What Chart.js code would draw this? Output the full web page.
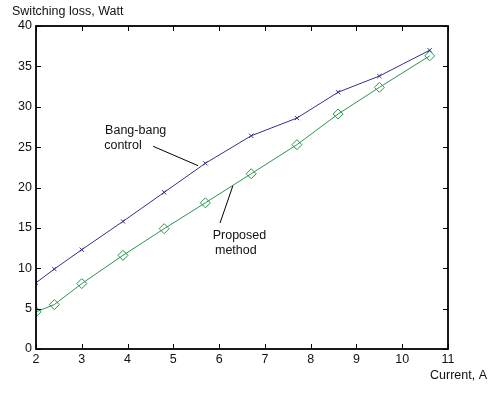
<!DOCTYPE html>
<html>
<head>
<meta charset="utf-8">
<script src="https://cdn.jsdelivr.net/npm/chart.js@4.4.1/dist/chart.umd.min.js"></script>
<style>
  html, body { margin: 0; padding: 0; background: #fff; }
  #wrap { width: 493px; height: 394px; position: relative; }
</style>
</head>
<body>
<div id="wrap"><canvas id="chart"></canvas></div>
<script>
// current values (A)
const currentA = [2, 2.4, 3, 3.9, 4.8, 5.7, 6.7, 7.7, 8.6, 9.5, 10.6];
// switching loss (W)
const bangBang = [8.2, 9.9, 12.3, 15.8, 19.4, 23.0, 26.4, 28.6, 31.8, 33.8, 37.0];
const proposed = [4.6, 5.5, 8.1, 11.6, 14.9, 18.1, 21.7, 25.3, 29.1, 32.4, 36.3];
const xTicks = [2, 3, 4, 5, 6, 7, 8, 9, 10, 11];
const yTicks = [0, 5, 10, 15, 20, 25, 30, 35, 40];

const FAMILY = '"Liberation Sans", Arial, sans-serif';
const FONT = '12.5px ' + FAMILY;
const BLUE = 'rgb(48,48,140)';
const GREEN = 'rgb(38,150,78)';

// text labels with pointer lines, in data units
const notes = [
  { lines: [['Bang-bang', 3.51, 27.0], ['control', 3.49, 25.25]], from: [4.56, 25.1], to: [5.54, 22.7] },
  { lines: [['Proposed', 5.86, 14.0], ['method', 5.91, 12.25]], from: [6.02, 15.6], to: [6.30, 20.2] }
];

const toPoints = ys => ys.map((y, i) => ({ x: currentA[i], y: y }));

// frame, inward ticks, axis names and annotations
const decor = {
  id: 'decor',
  afterDraw(chart) {
    const { ctx, chartArea: a, scales: { x, y } } = chart;
    ctx.save();
    ctx.strokeStyle = '#000';
    ctx.lineWidth = 1;
    const t = 5;
    ctx.beginPath();
    xTicks.forEach(v => {
      const px = Math.round(x.getPixelForValue(v)) + 0.5;
      ctx.moveTo(px, a.bottom); ctx.lineTo(px, a.bottom - t);
      ctx.moveTo(px, a.top); ctx.lineTo(px, a.top + t);
    });
    yTicks.forEach(v => {
      const py = Math.round(y.getPixelForValue(v)) + 0.5;
      ctx.moveTo(a.left, py); ctx.lineTo(a.left + t, py);
      ctx.moveTo(a.right, py); ctx.lineTo(a.right - t, py);
    });
    ctx.stroke();
    ctx.lineWidth = 1.8;
    ctx.strokeRect(a.left, a.top, a.right - a.left, a.bottom - a.top);

    ctx.fillStyle = '#111';
    ctx.font = FONT;
    ctx.textBaseline = 'middle';
    ctx.textAlign = 'left';
    ctx.fillText('Switching loss, Watt', 12, 12);
    ctx.textAlign = 'right';
    ctx.fillText('Current, A', 487, 376);

    ctx.textAlign = 'left';
    ctx.lineWidth = 1;
    notes.forEach(n => {
      n.lines.forEach(([s, vx, vy]) => ctx.fillText(s, x.getPixelForValue(vx), y.getPixelForValue(vy)));
      ctx.beginPath();
      ctx.moveTo(x.getPixelForValue(n.from[0]), y.getPixelForValue(n.from[1]));
      ctx.lineTo(x.getPixelForValue(n.to[0]), y.getPixelForValue(n.to[1]));
      ctx.stroke();
    });
    ctx.restore();
  }
};

new Chart(document.getElementById('chart'), {
  type: 'line',
  data: {
    datasets: [
      {
        label: 'Bang-bang control',
        data: toPoints(bangBang),
        borderColor: BLUE,
        borderWidth: 1,
        pointStyle: 'crossRot',
        pointRadius: 3,
        pointBorderColor: BLUE,
        pointBorderWidth: 1,
        tension: 0
      },
      {
        label: 'Proposed method',
        data: toPoints(proposed),
        borderColor: GREEN,
        borderWidth: 1,
        pointStyle: 'rectRot',
        pointRadius: 5,
        pointBackgroundColor: 'rgba(0,0,0,0)',
        pointBorderColor: GREEN,
        pointBorderWidth: 1,
        tension: 0
      }
    ]
  },
  options: {
    responsive: true,
    maintainAspectRatio: false,
    animation: false,
    events: [],
    layout: { padding: { top: 26, right: 45, left: 0, bottom: 0 } },
    plugins: { legend: { display: false }, tooltip: { enabled: false } },
    scales: {
      x: {
        type: 'linear',
        min: 2, max: 11,
        afterFit: s => { s.height = 45; },
        afterBuildTicks: s => { s.ticks = xTicks.map(v => ({ value: v })); },
        grid: { display: false, drawTicks: false },
        border: { display: false },
        ticks: { color: '#111', font: { family: FAMILY, size: 12.5 }, padding: 3, maxRotation: 0 }
      },
      y: {
        type: 'linear',
        min: 0, max: 40,
        afterFit: s => { s.width = 36; },
        afterBuildTicks: s => { s.ticks = yTicks.map(v => ({ value: v })); },
        grid: { display: false, drawTicks: false },
        border: { display: false },
        ticks: { color: '#111', font: { family: FAMILY, size: 12.5 }, padding: 4 }
      }
    }
  },
  plugins: [decor]
});
</script>
</body>
</html>
